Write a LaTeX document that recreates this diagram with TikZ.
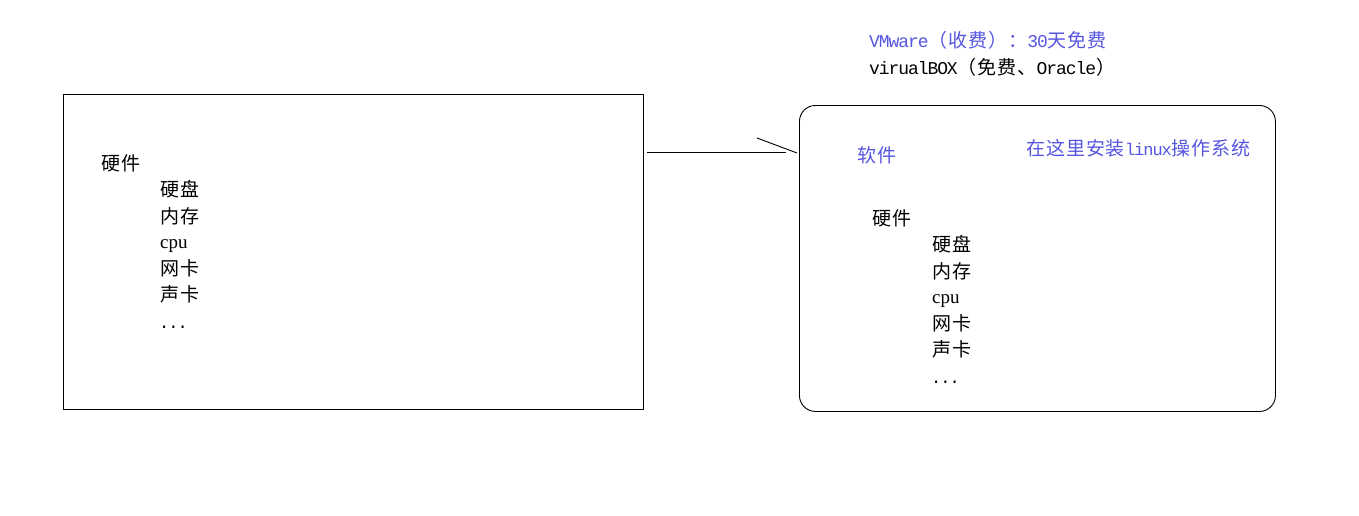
\documentclass[tikz,border=0pt]{standalone}
\usepackage{fontspec}
\setmainfont{Liberation Serif}
\newfontfamily\cjk[LetterSpace=5]{Noto Sans CJK SC}
\newfontfamily\mono[LetterSpace=-6]{Liberation Mono}
\definecolor{lblue}{RGB}{85,85,225}
\newcommand{\dotsm}{{\mono\fontsize{17pt}{17pt}\selectfont ...}}
\newcommand{\monot}[1]{{\mono\fontsize{18pt}{18pt}\selectfont #1}}
\begin{document}
\begin{tikzpicture}[x=1pt,y=-1pt,
  txt/.style={anchor=base west,inner sep=0pt,font=\fontsize{19pt}{19pt}\selectfont},
  box/.style={draw=black,line width=0.9pt},
  conn/.style={draw=black,line width=0.9pt}]
\useasboundingbox (0,0) rectangle (1359,515);
% boxes
\node[box,minimum width=580pt,minimum height=315pt,inner sep=0pt,anchor=north west] (L) at (63,94) {};
\node[box,rounded corners=16pt,minimum width=476pt,minimum height=306pt,inner sep=0pt,anchor=north west] (R) at (799,105) {};
% left content
\node[txt] (lh) at (101,170) {\cjk 硬件};
\node[txt] (l1) at (160,196) {\cjk 硬盘};
\node[txt] (l2) at (160,223) {\cjk 内存};
\node[txt] (l3) at (160,248) {cpu};
\node[txt] (l4) at (160,275) {\cjk 网卡};
\node[txt] (l5) at (160,301) {\cjk 声卡};
\node[txt] (l6) at (159,328) {\dotsm};
% right content
\node[txt,text=lblue] (rs) at (857,162) {\cjk 软件};
\node[txt,text=lblue] (rn) at (1026,155) {{\cjk 在这里安装}{\mono\fontsize{17pt}{17pt}\selectfont linux}{\cjk 操作系统}};
\node[txt] (rh) at (872,225) {\cjk 硬件};
\node[txt] (r1) at (932,251) {\cjk 硬盘};
\node[txt] (r2) at (932,278) {\cjk 内存};
\node[txt] (r3) at (932,303) {cpu};
\node[txt] (r4) at (932,330) {\cjk 网卡};
\node[txt] (r5) at (932,356) {\cjk 声卡};
\node[txt] (r6) at (931,383) {\dotsm};
% top notes
\node[txt,text=lblue] (t1) at (869,47) {\monot{VMware}{\cjk （收费）：}\monot{30}{\cjk 天免费}};
\node[txt] (t2) at (869,74) {\monot{virualBOX}{\cjk （免费、}\monot{Oracle}{\cjk ）}};
% connector
\coordinate (a1) at (647,152);
\coordinate (a2) at (786,152);
\coordinate (b1) at (757,138);
\coordinate (b2) at (797,153);
\draw[conn] (a1) -- (a2);
\draw[conn] (b1) -- (b2);
\end{tikzpicture}
\end{document}
